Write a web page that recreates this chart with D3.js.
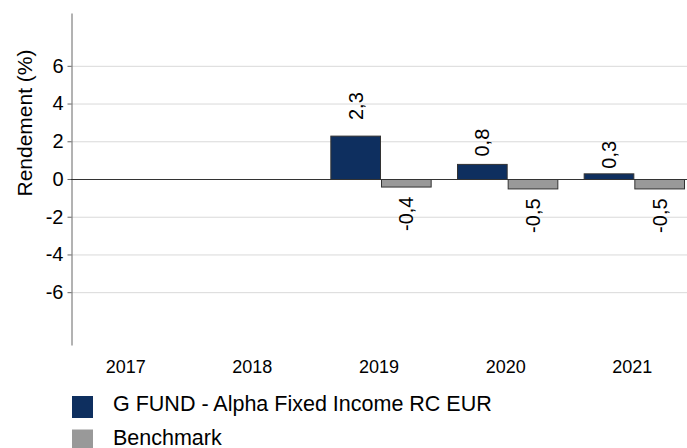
<!DOCTYPE html>
<html>
<head>
<meta charset="utf-8">
<script src="https://cdn.jsdelivr.net/npm/d3@7"></script>
<style>
  body { margin: 0; background: #fff; }
  text { font-family: "Liberation Sans", Arial, sans-serif; fill: #000; }
</style>
</head>
<body>
<script>
// annual returns bar chart

let years = ['2017', '2018', '2019', '2020', '2021']
let fundValues = [null, null, 2.3, 0.8, 0.3]
let benchValues = [null, null, -0.4, -0.5, -0.5]
let seriesNames = ['G FUND - Alpha Fixed Income RC EUR', 'Benchmark']
let seriesColors = ['#0e2f5f', '#999999']
let yTicks = [-6, -4, -2, 0, 2, 4, 6]

let Chart_Width = 687
let Chart_Height = 448
let axisX = 71

let rows = years.map((y, i) => ({ year: y, values: [fundValues[i], benchValues[i]] }))

let svg = d3.select('body')
  .append('svg')
  .attr('width', Chart_Width)
  .attr('height', Chart_Height)

// scales
let xScale = d3.scaleBand()
  .domain(years)
  .range([77, 685])
  .paddingInner(0.2)
  .paddingOuter(0)
let xSub = d3.scaleBand()
  .domain([0, 1])
  .range([0, xScale.bandwidth()])
let yScale = d3.scaleLinear()
  .domain([-8.8, 8.8])
  .range([345, 13])

// grid lines
svg.append('g')
  .selectAll('line')
  .data(yTicks.filter(d => d !== 0))
  .enter()
  .append('line')
  .attr('x1', axisX)
  .attr('x2', Chart_Width)
  .attr('y1', d => yScale(d) + 0.5)
  .attr('y2', d => yScale(d) + 0.5)
  .attr('stroke', '#d9d9d9')
  .attr('stroke-width', 1)

// y axis
let yAxis = d3.axisLeft(yScale)
  .tickValues(yTicks)
  .tickFormat(d => String(d))
  .tickSize(4)
  .tickSizeOuter(0)
  .tickPadding(4)
let yAxisG = svg.append('g')
  .attr('transform', 'translate(' + (axisX + 0.5) + ',0)')
  .call(yAxis)
yAxisG.select('.domain').attr('stroke', '#666')
yAxisG.selectAll('.tick line').attr('stroke', '#666')
yAxisG.selectAll('.tick text')
  .attr('font-size', 20)
  .attr('font-family', '"Liberation Sans", Arial, sans-serif')
  .attr('fill', '#000')

// y title
svg.append('text')
  .attr('transform', 'translate(32,123) rotate(-90)')
  .attr('text-anchor', 'middle')
  .attr('font-size', 21)
  .text('Rendement (%)')

// bars
let groups = svg.selectAll('.yearGroup')
  .data(rows)
  .enter()
  .append('g')
  .attr('class', 'yearGroup')
  .attr('transform', d => 'translate(' + xScale(d.year) + ',0)')

let bars = groups.selectAll('g.bar')
  .data(d => d.values.map((v, i) => ({ v: v, i: i })).filter(e => e.v !== null))
  .enter()
  .append('g')
  .attr('class', 'bar')

bars.append('rect')
  .attr('x', d => xSub(d.i) + 0.5)
  .attr('y', d => Math.min(yScale(d.v), yScale(0)) + 0.5)
  .attr('width', xSub.bandwidth() - 1)
  .attr('height', d => Math.abs(yScale(d.v) - yScale(0)))
  .attr('fill', d => seriesColors[d.i])
  .attr('stroke', '#333')
  .attr('stroke-width', 1)

// value labels, rotated
bars.append('text')
  .attr('transform', d => {
    let cx = xSub(d.i) + xSub.bandwidth() / 2
    let h = Math.abs(yScale(d.v) - yScale(0))
    let y = d.v >= 0 ? yScale(d.v) - 3 - 0.29 * h : yScale(d.v) + 10
    return 'translate(' + cx + ',' + y + ') rotate(-90)'
  })
  .attr('text-anchor', d => d.v >= 0 ? 'start' : 'end')
  .attr('dy', '0.35em')
  .attr('font-size', 20)
  .text(d => String(d.v).replace('.', ','))

// zero line
svg.append('line')
  .attr('x1', axisX)
  .attr('x2', Chart_Width)
  .attr('y1', yScale(0) + 0.5)
  .attr('y2', yScale(0) + 0.5)
  .attr('stroke', '#333')
  .attr('stroke-width', 1)

// x labels
svg.selectAll('.xLabel')
  .data(years)
  .enter()
  .append('text')
  .attr('class', 'xLabel')
  .attr('x', d => xScale(d) + xScale.bandwidth() / 2 - 2)
  .attr('y', 373)
  .attr('text-anchor', 'middle')
  .attr('font-size', 18)
  .text(d => d)

// legend
let legend = svg.selectAll('.legendItem')
  .data(seriesNames)
  .enter()
  .append('g')
  .attr('class', 'legendItem')
  .attr('transform', (d, i) => 'translate(72,' + (396 + 33.5 * i) + ')')
legend.append('rect')
  .attr('width', 21)
  .attr('height', 22)
  .attr('fill', (d, i) => seriesColors[i])
legend.append('text')
  .attr('x', 41)
  .attr('y', 15)
  .attr('font-size', 21.5)
  .text(d => d)
</script>
</body>
</html>
